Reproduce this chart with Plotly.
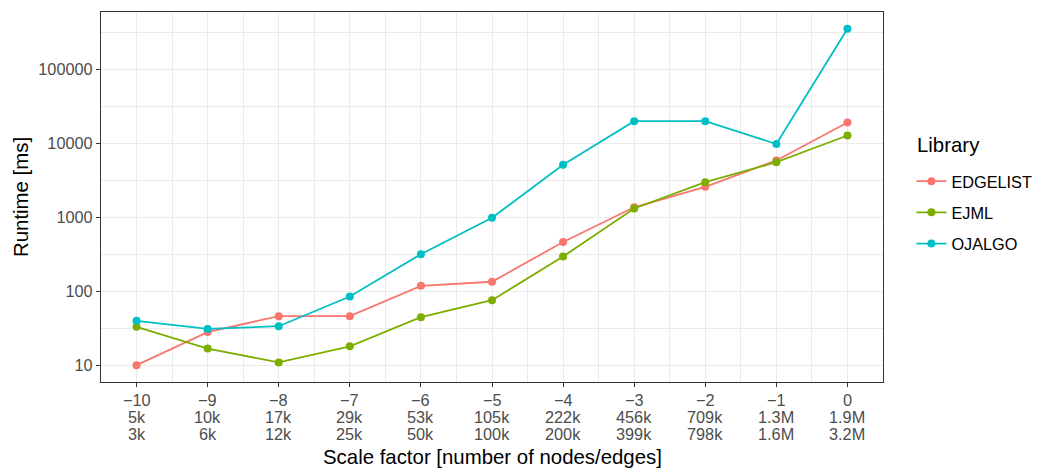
import plotly.graph_objects as go
import numpy as np

# Scale factors and the graph sizes at each step (nodes / edges)
scale_factor = [-10, -9, -8, -7, -6, -5, -4, -3, -2, -1, 0]
nodes_label = ["5k", "10k", "17k", "29k", "53k", "105k", "222k", "456k", "709k", "1.3M", "1.9M"]
edges_label = ["3k", "6k", "12k", "25k", "50k", "100k", "200k", "399k", "798k", "1.6M", "3.2M"]

# Runtime in milliseconds per library
edgelist_ms = [10, 28, 46, 46, 118, 134, 461, 1360, 2570, 5840, 19000]
ejml_ms = [33, 16.8, 10.9, 18, 44.6, 75.5, 294, 1310, 2970, 5530, 12700]
ojalgo_ms = [39.7, 30.9, 33.6, 84.7, 316, 980, 5120, 19800, 19800, 9750, 351000]

y_tick_vals = [10, 100, 1000, 10000, 100000]

series = [
    ("EDGELIST", edgelist_ms, "#F8766D"),
    ("EJML", ejml_ms, "#7CAE00"),
    ("OJALGO", ojalgo_ms, "#00BFC4"),
]

FAMILY = "Liberation Sans, Arial, sans-serif"
tick_font = dict(family=FAMILY, size=16.3, color="#4D4D4D")
title_font = dict(family=FAMILY, size=20.4, color="#000000")

fig = go.Figure()
for name, values, color in series:
    fig.add_trace(go.Scatter(
        x=scale_factor, y=values, name=name, legendgroup=name,
        mode="lines+markers",
        line=dict(color=color, width=1.8),
        marker=dict(color=color, size=8),
    ))

def fmt_sf(v):
    return ("\u2212" + str(-v)) if v < 0 else str(v)

# ggplot-style 5% expansion on both axes
x_lo, x_hi = min(scale_factor), max(scale_factor)
x_pad = 0.05 * (x_hi - x_lo)
all_vals = edgelist_ms + ejml_ms + ojalgo_ms
ly_lo, ly_hi = np.log10(min(all_vals)), np.log10(max(all_vals))
y_pad = 0.05 * (ly_hi - ly_lo)

x_minor = [s + 0.5 for s in scale_factor[:-1]]
y_minor = [10 ** (k + 0.5) for k in range(0, 6)]

grid = "#EBEBEB"

fig.update_xaxes(
    range=[x_lo - x_pad, x_hi + x_pad],
    tickmode="array", tickvals=scale_factor, showticklabels=False,
    ticks="outside", ticklen=4, tickwidth=1.1, tickcolor="#333333",
    showgrid=True, gridcolor=grid, gridwidth=1.1,
    minor=dict(tickvals=x_minor, showgrid=True, gridcolor=grid, gridwidth=0.6, ticks=""),
    showline=True, linecolor="#333333", linewidth=1.2, mirror=True,
    zeroline=False,
)
fig.update_yaxes(
    type="log", range=[ly_lo - y_pad, ly_hi + y_pad],
    tickmode="array", tickvals=y_tick_vals, ticktext=[str(v) for v in y_tick_vals],
    tickfont=tick_font, ticks="outside", ticklen=4, tickwidth=1.1, tickcolor="#333333",
    showgrid=True, gridcolor=grid, gridwidth=1.1,
    minor=dict(tickvals=y_minor, showgrid=True, gridcolor=grid, gridwidth=0.6, ticks=""),
    showline=True, linecolor="#333333", linewidth=1.2, mirror=True,
    zeroline=False,
)

# Three-line x tick labels: scale factor, node count, edge count
annotations = []
for s, n, e in zip(scale_factor, nodes_label, edges_label):
    for text, shift in ((fmt_sf(s), -18), (n, -35), (e, -52)):
        annotations.append(dict(
            x=s, xref="x", y=0, yref="paper", yshift=shift,
            text=text, showarrow=False, font=tick_font,
            xanchor="center", yanchor="middle",
        ))

# Axis titles and legend title
annotations.append(dict(
    x=0.5, xref="paper", y=0, yref="paper", yshift=-75,
    text="Scale factor [number of nodes/edges]", showarrow=False, font=title_font,
    xanchor="center", yanchor="middle",
))
annotations.append(dict(
    x=0, xref="paper", xshift=-80, y=0.5, yref="paper",
    text="Runtime [ms]", showarrow=False, font=title_font, textangle=-90,
    xanchor="center", yanchor="middle",
))
annotations.append(dict(
    x=1, xref="paper", xshift=32, y=1, yref="paper", yshift=-133,
    text="Library", showarrow=False, font=title_font,
    xanchor="left", yanchor="middle",
))

fig.update_layout(
    width=1048, height=470,
    margin=dict(l=101, r=164, t=12, b=88),
    paper_bgcolor="white", plot_bgcolor="white",
    font=dict(family=FAMILY),
    annotations=annotations,
    legend=dict(
        font=dict(family=FAMILY, size=16.3, color="#000000"),
        x=1.035, xanchor="left", y=0.589, yanchor="top",
        tracegroupgap=7, itemwidth=30,
    ),
)

fig.write_html("out.html")
